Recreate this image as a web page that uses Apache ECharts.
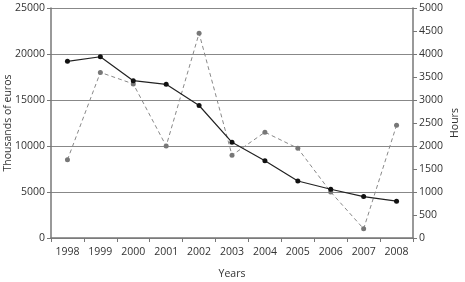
<!DOCTYPE html>
<html><head><meta charset="utf-8">
<script src="https://cdn.jsdelivr.net/npm/echarts@6/dist/echarts.min.js"></script>
<style>html,body{margin:0;padding:0;background:#fff}#c{width:465px;height:282px}</style>
</head><body><div id="c"></div>
<script>
var years = ['1998','1999','2000','2001','2002','2003','2004','2005','2006','2007','2008'];
var euros = [19200,19700,17100,16700,14400,10400,8400,6200,5300,4500,4000];
var hours = [1700,3600,3350,2000,4450,1800,2300,1950,1000,200,2450];
var font = 'Open Sans';
var fmt = function(v){return String(v);};
var chart = echarts.init(document.getElementById('c'));
chart.setOption({
  animation:false,
  grid:{left:51,right:52,top:8,bottom:44,containLabel:false,outerBoundsMode:'none'},
  xAxis:{type:'category',data:years,boundaryGap:true,
    name:'Years',nameLocation:'middle',nameGap:31,nameMoveOverlap:false,
    nameTextStyle:{color:'#333',fontFamily:font,fontSize:10.5},
    axisLine:{lineStyle:{color:'#777',width:1.5}},
    axisTick:{show:true,lineStyle:{color:'#777'},length:4,interval:0},
    axisLabel:{color:'#333',fontFamily:font,fontSize:10.5,margin:9,interval:0}},
  yAxis:[{type:'value',min:0,max:25000,interval:5000,
    name:'Thousands of euros',nameLocation:'middle',nameGap:37,nameRotate:90,nameMoveOverlap:false,
    nameTextStyle:{color:'#333',fontFamily:font,fontSize:10.5},
    axisLine:{show:true,lineStyle:{color:'#777',width:1.5}},
    axisTick:{show:true,length:4,lineStyle:{color:'#777'}},
    axisLabel:{color:'#333',fontFamily:font,fontSize:10.5,margin:6,formatter:fmt},
    splitLine:{lineStyle:{color:'#888',width:1.2}}},
   {type:'value',min:0,max:5000,interval:500,position:'right',
    name:'Hours',nameLocation:'middle',nameGap:37,nameRotate:90,nameMoveOverlap:false,
    nameTextStyle:{color:'#333',fontFamily:font,fontSize:10.5},
    axisLine:{show:true,lineStyle:{color:'#777',width:1.5}},
    axisTick:{show:true,length:4,lineStyle:{color:'#777'}},
    axisLabel:{color:'#333',fontFamily:font,fontSize:10.5,margin:6,formatter:fmt},
    splitLine:{show:false}}],
  series:[
   {type:'line',data:euros,yAxisIndex:0,symbol:'circle',symbolSize:5,
    lineStyle:{color:'#222',width:1.2},itemStyle:{color:'#111'},z:3},
   {type:'line',data:hours,yAxisIndex:1,symbol:'circle',symbolSize:5,
    lineStyle:{color:'#888',width:1,type:[4,3]},itemStyle:{color:'#777'},z:2}
  ]
});
</script></body></html>
